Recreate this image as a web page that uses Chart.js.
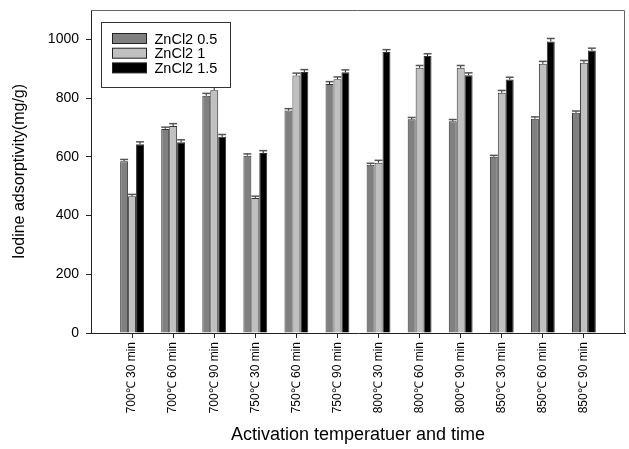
<!DOCTYPE html>
<html>
<head>
<meta charset="utf-8">
<script src="https://cdn.jsdelivr.net/npm/chart.js@4.4.1/dist/chart.umd.min.js"></script>
<style>
  body { margin: 0; background: #fff; }
  #wrap { width: 629px; height: 449px; }
</style>
</head>
<body>
<div id="wrap"><canvas id="myChart" width="629" height="449"></canvas></div>
<script>
// categories on the x axis
const categories = ['700℃ 30 min', '700℃ 60 min', '700℃ 90 min', '750℃ 30 min', '750℃ 60 min', '750℃ 90 min',
    '800℃ 30 min', '800℃ 60 min', '800℃ 90 min', '850℃ 30 min', '850℃ 60 min', '850℃ 90 min']

// iodine adsorptivity (mg/g) per ZnCl2 ratio
const zn05 = [585, 695, 808, 604, 758, 848, 573, 728, 721, 600, 730, 750]
const zn1 = [466, 705, 827, 460, 877, 864, 580, 903, 903, 818, 917, 920]
const zn15 = [643, 650, 668, 613, 889, 888, 957, 943, 878, 863, 993, 962]

// error bar sizes
const err05 = [6, 6, 8, 6, 6, 8, 5, 6, 6, 5, 6, 6]
const err1 = [6, 8, 10, 6, 8, 8, 8, 8, 8, 8, 8, 8]
const err15 = [8, 8, 8, 8, 8, 8, 8, 8, 8, 8, 10, 8]

const yTicks = [0, 200, 400, 600, 800, 1000]

const FONT = 'Liberation Sans, Arial, sans-serif'

const toPoints = vals => vals.map((v, i) => ({ x: i + 1, y: v }))

const data = {
    datasets: [
        { label: 'ZnCl2 0.5', data: toPoints(zn05), errors: err05, backgroundColor: '#808080' },
        { label: 'ZnCl2 1', data: toPoints(zn1), errors: err1, backgroundColor: '#c0c0c0' },
        { label: 'ZnCl2 1.5', data: toPoints(zn15), errors: err15, backgroundColor: '#000000' }
    ]
}

// error bars on top of each bar
const errorBars = {
    id: 'errorBars',
    afterDatasetsDraw(chart) {
        const ctx = chart.ctx
        const yScale = chart.scales.y
        ctx.save()
        chart.data.datasets.forEach((ds, di) => {
            const meta = chart.getDatasetMeta(di)
            meta.data.forEach((bar, i) => {
                const v = ds.data[i].y
                const top = yScale.getPixelForValue(v + ds.errors[i])
                const half = bar.width / 2
                ctx.strokeStyle = '#222'
                ctx.lineWidth = 1
                ctx.beginPath()
                ctx.moveTo(bar.x, bar.y)
                ctx.lineTo(bar.x, top)
                ctx.stroke()
                ctx.strokeStyle = '#555'
                ctx.lineWidth = 1.5
                ctx.beginPath()
                ctx.moveTo(bar.x - half, top)
                ctx.lineTo(bar.x + half, top)
                ctx.stroke()
            })
        })
        ctx.restore()
    }
}

// frame round the plot area and the boxed legend
const frameAndLegend = {
    id: 'frameAndLegend',
    afterDraw(chart) {
        const ctx = chart.ctx
        const a = chart.chartArea
        ctx.save()
        ctx.strokeStyle = '#666'
        ctx.lineWidth = 1
        ctx.beginPath()
        ctx.moveTo(a.left, a.top + 0.5)
        ctx.lineTo(a.right - 0.5, a.top + 0.5)
        ctx.lineTo(a.right - 0.5, a.bottom)
        ctx.stroke()

        const bx = a.left + 10.5, by = a.top + 12.5, bw = 129, bh = 65
        ctx.fillStyle = '#fff'
        ctx.fillRect(bx, by, bw, bh)
        ctx.strokeStyle = '#333'
        ctx.strokeRect(bx, by, bw, bh)
        ctx.font = '14.5px ' + FONT
        ctx.textBaseline = 'middle'
        chart.data.datasets.forEach((ds, i) => {
            const cy = by + 16 + i * 14.7
            ctx.fillStyle = ds.backgroundColor
            ctx.fillRect(bx + 11, cy - 5, 34, 10)
            ctx.strokeStyle = '#222'
            ctx.strokeRect(bx + 11, cy - 5, 34, 10)
            ctx.fillStyle = '#000'
            ctx.fillText(ds.label, bx + 53, cy + 1)
        })
        ctx.restore()
    }
}

const config = {
    type: 'bar',
    data: data,
    options: {
        responsive: false,
        animation: false,
        layout: {
            padding: { top: 10, right: 4, left: 0, bottom: 0 }
        },
        datasets: {
            bar: {
                categoryPercentage: 0.58,
                barPercentage: 1,
                borderColor: '#333',
                borderWidth: 1
            }
        },
        plugins: {
            legend: { display: false },
            tooltip: { enabled: false }
        },
        scales: {
            x: {
                type: 'linear',
                min: 0,
                max: 13,
                offset: false,
                afterFit: scale => { scale.height = 116 },
                afterBuildTicks: scale => {
                    scale.ticks = categories.map((c, i) => ({ value: i + 1 }))
                },
                border: { color: '#222', width: 1 },
                grid: {
                    offset: false,
                    drawOnChartArea: false,
                    tickLength: 5,
                    tickColor: '#222'
                },
                ticks: {
                    autoSkip: false,
                    minRotation: 90,
                    maxRotation: 90,
                    padding: 4,
                    color: '#000',
                    font: { family: FONT, size: 12 },
                    callback: value => categories[value - 1] || ''
                },
                title: {
                    display: true,
                    text: 'Activation temperatuer and time',
                    color: '#000',
                    font: { family: FONT, size: 18 },
                    padding: { top: 4, bottom: 3 }
                }
            },
            y: {
                min: 0,
                max: 1100,
                afterFit: scale => {
                    scale.width = 91
                    scale.paddingTop = 0
                    scale.paddingBottom = 0
                },
                afterBuildTicks: scale => {
                    scale.ticks = yTicks.map(v => ({ value: v }))
                },
                border: { color: '#222', width: 1 },
                grid: {
                    drawOnChartArea: false,
                    tickLength: 5,
                    tickColor: '#222'
                },
                ticks: {
                    padding: 7,
                    color: '#000',
                    font: { family: FONT, size: 14 },
                    callback: value => String(value)
                },
                title: {
                    display: true,
                    text: 'Iodine adsorptivity(mg/g)',
                    color: '#000',
                    font: { family: FONT, size: 16 },
                    padding: { top: 10, bottom: 4 }
                }
            }
        }
    },
    plugins: [errorBars, frameAndLegend]
}

new Chart(document.getElementById('myChart'), config)
</script>
</body>
</html>
